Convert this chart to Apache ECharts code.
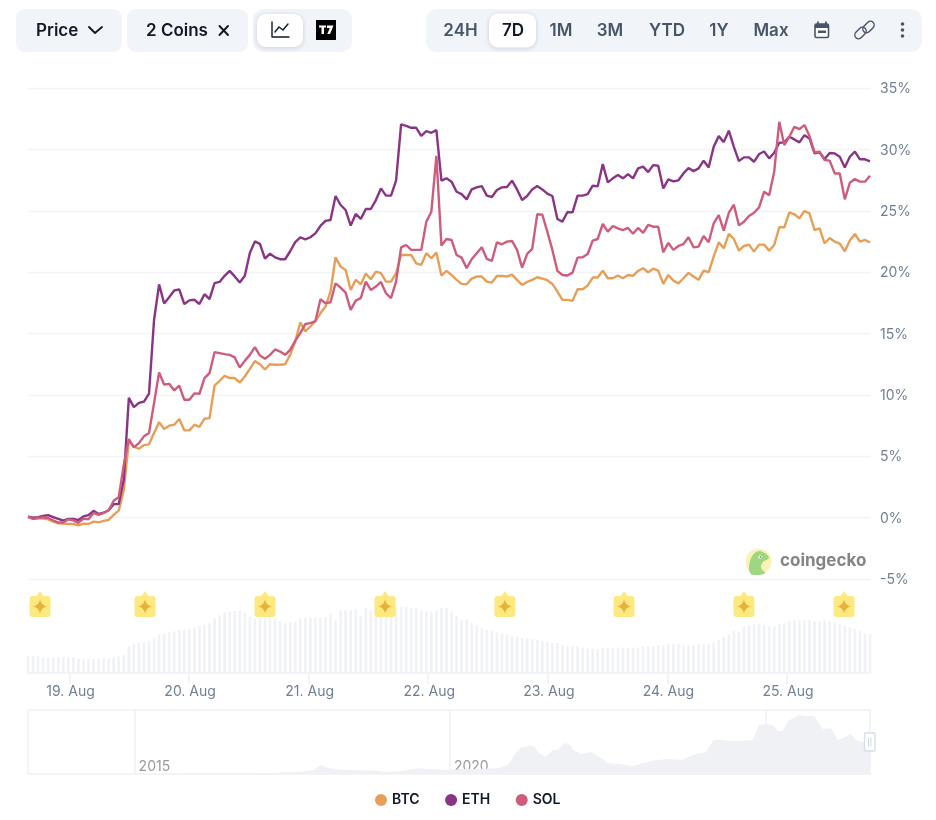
<!DOCTYPE html>
<html><head><meta charset="utf-8">
<style>html,body{margin:0;padding:0;background:#fff}#c{width:936px;height:820px}</style>
<script src="https://cdn.jsdelivr.net/npm/echarts@6/dist/echarts.min.js"></script>
</head><body><div id="c"></div>
<script>
const seriesNames = ['BTC','ETH','SOL'];
const btc = [.03,-.08,-.03,-.08,-.14,-.33,-.46,-.49,-.52,-.52,-.63,-.49,-.52,-.33,-.38,-.27,-.19,.22,.57,2.25,6.21,5.78,5.61,5.91,5.97,6.89,7.78,7.22,7.49,7.57,8.03,7.11,7.11,7.57,7.4,8.06,8.11,10.76,11.15,11.55,11.37,11.37,11.01,11.5,12.12,12.75,12.5,12.07,12.5,12.45,12.45,12.5,13.26,14.35,15.9,15.18,15.57,16.0,
16.65,17.2,18.42,21.21,20.45,20.18,18.55,19.37,19.01,19.88,19.42,20.04,19.91,19.23,19.23,19.91,21.4,21.4,21.4,20.72,20.59,21.54,21.13,21.59,19.72,20.1,19.77,19.37,19.04,19.01,19.47,19.64,19.64,19.23,19.15,19.69,19.69,19.64,19.8,19.37,18.96,19.2,19.37,19.58,19.47,19.34,19.04,18.42,17.74,17.74,17.66,18.6,18.6,18.9,19.56,19.56,
20.12,19.5,19.5,19.72,19.5,19.77,19.69,20.1,20.32,19.99,20.28,20.12,19.04,19.77,19.31,19.09,19.5,19.94,19.64,19.37,20.12,19.99,21.26,22.43,21.94,23.11,22.7,21.75,22.13,22.24,21.67,22.24,22.24,21.75,22.21,23.65,23.65,24.87,24.71,24.38,24.98,24.79,23.43,23.57,22.35,22.78,22.48,22.32,21.7,22.57,23.11,22.48,22.62,22.43];
const eth = [.08,0,.03,.13,.2,.05,-.1,-.25,-.1,-.1,-.2,.1,.2,.55,.3,.4,.6,1.1,1.1,3.1,9.75,9.0,9.35,9.45,10.1,16.1,19.0,17.45,17.95,18.5,18.6,17.4,17.7,17.75,17.4,18.2,17.8,19.1,19.2,19.7,20.1,19.65,19.15,19.7,21.55,22.5,22.3,21.1,21.5,21.2,21.05,21.05,21.7,22.45,22.84,22.67,22.84,23.16,23.76,24.17,24.25,26.2,25.47,25.06,23.79,24.74,24.33,25.14,25.14,25.87,26.82,26.23,26.23,27.45,32.03,31.92,31.76,31.76,31.1,31.49,31.35,31.57,27.45,27.64,27.37,26.55,26.36,25.93,26.74,26.9,27.01,26.23,26.12,26.69,26.9,26.93,27.45,26.74,25.87,26.2,26.74,27.01,26.74,26.39,26.2,24.33,24.11,24.9,24.87,26.23,26.23,26.36,27.04,26.99,
28.8,27.31,27.64,27.91,27.64,27.99,27.64,28.45,28.59,28.15,28.72,28.67,26.82,27.56,27.39,27.48,28.04,28.48,28.23,28.45,29.08,28.53,30.21,31.08,30.59,31.52,30.21,29.05,29.35,29.35,28.99,29.62,29.83,29.27,29.73,30.54,30.57,31.03,30.81,30.57,31.16,30.89,29.67,29.75,29.21,29.7,29.67,29.4,28.53,29.4,29.81,29.19,29.19,29.02];
const sol = [.08,-.11,-.03,.03,-.03,-.22,-.4,-.4,-.14,-.22,-.43,-.08,-.14,.38,.22,.38,.6,1.38,1.68,4.3,6.4,5.72,6.07,6.62,6.89,9.33,11.83,10.85,10.9,10.36,10.76,9.6,9.6,10.12,10.09,11.37,11.77,13.48,13.4,13.32,13.26,13.05,12.23,12.77,13.26,13.89,13.2,12.94,13.26,13.7,13.53,13.26,13.67,14.4,15.03,15.77,15.84,16.0,
17.79,17.47,17.55,19.09,18.74,18.33,16.92,17.68,17.88,19.23,18.55,18.82,19.2,18.28,17.88,19.23,22.02,22.21,21.81,21.81,21.81,24.11,24.92,29.48,22.16,22.7,22.62,21.4,21.18,20.32,21.05,21.54,22.02,21.07,20.91,22.43,22.27,22.48,22.54,21.81,20.37,21.48,21.89,24.71,24.68,23.3,21.81,20.1,19.77,19.72,19.96,21.18,21.21,21.48,22.57,22.7,
23.92,23.3,23.76,23.57,23.43,23.6,23.13,23.6,23.19,23.84,23.7,23.7,21.62,22.38,21.81,22.13,22.29,22.84,22.02,22.08,22.95,22.43,23.98,24.65,23.38,24.84,25.49,23.81,24.11,24.57,24.84,25.28,26.55,26.26,28.18,32.25,30.35,31.03,31.84,31.65,31.98,31.08,29.75,29.81,29.13,29.08,28.04,28.04,25.93,27.28,27.58,27.37,27.37,27.85];
const volume = [50,50,50,47,47,47,47,47,47,47,43,43,43,43,43,43,43,
46,50,54,80,87,91,93,97,105,115,119,123,125,129,130,133,137,141,144,149,164,173,181,185,186,188,180,168,165,165,163,166,166,156,151,152,153,163,166,167,167,166,168,178,158,188,188,188,191,170,194,188,198,198,198,198,196,198,198,196,195,188,185,184,188,195,195,185,170,158,160,
150,143,136,130,126,122,119,115,111,108,106,105,101,98,96,93,90,90,84,80,80,80,77,73,72,72,75,76,76,76,76,76,76,76,79,80,80,83,83,86,86,86,83,83,83,86,86,88,92,100,108,116,127,123,140,143,146,146,144,140,140,148,148,156,158,158,158,158,155,155,158,155,151,148,142,136,132,126,118,116];
const dayTicks = ['2025-08-19','2025-08-20','2025-08-21','2025-08-22','2025-08-23','2025-08-24','2025-08-25'];
const dayLabels = ['19. Aug','20. Aug','21. Aug','22. Aug','23. Aug','24. Aug','25. Aug'];
const flagTimes = ['2025-08-18T18:05Z','2025-08-19T15:09Z','2025-08-20T15:14Z','2025-08-21T15:20Z','2025-08-22T15:23Z','2025-08-23T15:18Z','2025-08-24T15:22Z','2025-08-25T11:28Z'];
const navYears = [2013.31,2015,2016,2017.26,2017.35,2017.62,2017.83,2017.96,2018.07,2018.26,2018.46,2018.84,2018.94,2019.21,2019.48,2019.73,2020,2020.25,2020.46,2020.78,2020.92,2021.01,2021.12,2021.24,2021.33,2021.41,2021.52,2021.63,2021.71,2021.81,2021.89,2021.96,2022.08,2022.23,2022.35,2022.5,2022.68,2022.9,2023.06,2023.26,2023.47,2023.69,2023.85,2024.06,2024.18,2024.33,2024.42,2024.56,2024.8,2024.9,2025.01,2025.12,2025.2,2025.28,2025.36,2025.53,2025.64,2025.77,2025.91,2026.04,2026.15,2026.24,2026.35,2026.46,2026.56,2026.66];
const navValues = [.2,.3,.5,1,2,2,3.7,9,5.7,4.3,4,3.3,2.3,2.7,5.7,4.7,4,5,5,6,9,18,26,28,28,21,17,24,24,31,30,24,20,22,18,11,10,8,11,14,15,14,19,22,34,34,33,33,34,49,50,49,43,43,53,59,58,58,45,46,34,36,40,33,32,33];
const navYearTicks = [2015,2020,2025];

const COLORS = {BTC:'#E79F58',ETH:'#8A3485',SOL:'#CE5C7B'};
const FONT = 'Inter';
const start = Date.UTC(2025,7,18,15,40);
const end = start + 169*3600e3;
const step = (end-start)/(btc.length-1);
const times = btc.map((_,i)=>start+i*step);
const zip = a => a.map((v,i)=>[times[i],v]);
const dayMs = dayTicks.map(d=>Date.parse(d+'T00:00:00Z'));
const flags = flagTimes.map(t=>[Date.parse(t),207]);

const PILL='#F1F4F9', INK='#111827', SOFT='#475569';
const pill=(x,y,w,h,r,fill,shadow)=>({type:'rect',shape:{x,y,width:w,height:h,r},style:Object.assign({fill},shadow?{shadowBlur:5,shadowColor:'rgba(15,23,42,.16)',shadowOffsetY:1}:{})});
const txt=(text,x,y,align,fill,size,weight)=>({type:'text',x,y,style:{text,fill,font:`${weight||600} ${size||17}px ${FONT}`,align:align||'center',verticalAlign:'middle'}});
const poly=(points,stroke,lw)=>({type:'polyline',shape:{points},style:{fill:null,stroke,lineWidth:lw||1.8,lineCap:'round',lineJoin:'round'}});
const shapeFill=(points,fill,z,smooth)=>({type:'polygon',z:z||0,shape:{points,smooth:smooth||0},style:{fill}});
const chrome=[
 pill(16,9,106,43,9,PILL), txt('Price',36,30.5,'left',INK), poly([[89,27],[95,33],[102,27]],INK,1.9),
 pill(127,9,121,43,9,PILL), txt('2 Coins',146,30.5,'left',INK), poly([[219.5,26],[228,35]],INK,1.9), poly([[228,26],[219.5,35]],INK,1.9),
 pill(253,9,99,43,10,PILL), pill(257,14,46,33,9,'#fff',true),
 poly([[272,22],[272,37],[289,37]],INK,1.4), poly([[275,32],[279,27],[283,30],[288,24]],INK,1.4),
 {type:'rect',shape:{x:316,y:20,width:20,height:20},style:{fill:'#000'}},
 shapeFill([[319,25.5],[326,25.5],[326,27.5],[324,27.5],[324,34],[321.5,34],[321.5,27.5],[319,27.5]],'#fff'),
 shapeFill([[327,25.5],[333.5,25.5],[330,34],[327.3,34],[329.8,28],[327,28]],'#fff'),
 pill(426,9,496,43,11,PILL), pill(489,13.5,47,34,9,'#fff',true),
 txt('24H',460.5,30.5,'center',SOFT), txt('7D',513,30.5,'center',INK), txt('1M',561,30.5,'center',SOFT), txt('3M',610,30.5,'center',SOFT),
 txt('YTD',667,30.5,'center',SOFT), txt('1Y',719,30.5,'center',SOFT), txt('Max',771,30.5,'center',SOFT),
 {type:'rect',shape:{x:815,y:24,width:13.5,height:13.5,r:1.5},style:{fill:'#fff',stroke:SOFT,lineWidth:1.6}},
 {type:'rect',shape:{x:815,y:24,width:13.5,height:4},style:{fill:SOFT}},
 {type:'rect',shape:{x:818,y:30.5,width:8,height:2.5},style:{fill:SOFT}},
 {type:'rect',shape:{x:817,y:21.5,width:1.8,height:3},style:{fill:SOFT}},{type:'rect',shape:{x:825,y:21.5,width:1.8,height:3},style:{fill:SOFT}},
 {type:'rect',x:860.5,y:33,rotation:.8,shape:{x:-6.5,y:-3.8,width:13,height:7.6,r:3.8},style:{fill:null,stroke:SOFT,lineWidth:1.4}},
 {type:'rect',x:868.5,y:27,rotation:.8,shape:{x:-6.5,y:-3.8,width:13,height:7.6,r:3.8},style:{fill:null,stroke:SOFT,lineWidth:1.4}},
 {type:'circle',shape:{cx:902.5,cy:24,r:1.8},style:{fill:SOFT}},{type:'circle',shape:{cx:902.5,cy:30,r:1.8},style:{fill:SOFT}},{type:'circle',shape:{cx:902.5,cy:36,r:1.8},style:{fill:SOFT}},
 {type:'circle',z:5,shape:{cx:758.5,cy:561.5,r:13},style:{fill:'#FBF2B5'}},
 shapeFill([[750,573],[750,561],[756,552],[763,552],[769,558],[763,562],[761,568],[765,573],[757,575]],'#9FD681',6,.4),
 {type:'circle',z:7,shape:{cx:760,cy:557,r:1.7},style:{fill:'#fff'}},{type:'circle',z:8,shape:{cx:760.3,cy:557,r:.8},style:{fill:'#555'}},
 {type:'text',z:6,x:780,y:561,style:{text:'coingecko',fill:'#858585',font:`700 17px ${FONT}`,align:'left',verticalAlign:'middle'}},
 {type:'rect',z:20,shape:{x:864.5,y:733,width:10.5,height:18,r:1},style:{fill:'#fff',stroke:'#D5DDE8',lineWidth:1.3}},
 {type:'rect',z:21,shape:{x:868,y:737.5,width:.8,height:9},style:{fill:'#C3CBD6'}},
 {type:'rect',z:21,shape:{x:870.5,y:737.5,width:.8,height:9},style:{fill:'#C3CBD6'}}
];

const GRID='#F2F3F6';
const option={
 animation:false,
 backgroundColor:'#fff',
 textStyle:{fontFamily:FONT},
 color:[COLORS.BTC,COLORS.ETH,COLORS.SOL],
 grid:[
  {left:28,width:842,top:88,height:491},
  {left:28,width:842,top:590,height:83},
  {left:28,width:842,top:710,height:64,show:true,borderColor:'#F0F1F4',borderWidth:1.5,backgroundColor:'transparent'}
 ],
 xAxis:[
  {type:'value',gridIndex:0,min:start,max:end,show:false},
  {type:'value',gridIndex:1,min:start,max:end,
   axisLine:{lineStyle:{color:'#F0F1F4',width:1.5}},
   axisTick:{length:11,customValues:dayMs,lineStyle:{color:'#F0F1F4',width:1.5}},
   axisLabel:{customValues:dayMs,color:'#6F7F95',fontSize:14,fontFamily:FONT,margin:12,hideOverlap:false,padding:[0,0,0,2],
     formatter:v=>dayLabels[dayMs.indexOf(+v)]||''},
   splitLine:{show:false}},
  {type:'value',gridIndex:2,min:2013.31,max:2026.66,
   axisLine:{show:false},
   axisTick:{show:false,customValues:navYearTicks},
   axisLabel:{customValues:navYearTicks,inside:true,color:'#9A9A9A',fontSize:14,fontFamily:FONT,margin:0,align:'left',padding:[0,0,0,4],formatter:v=>String(v)},
   splitLine:{show:true,lineStyle:{color:'#F0F1F4',width:1.5}}}
 ],
 yAxis:[
  {type:'value',gridIndex:0,position:'right',min:-5,max:35,interval:5,
   axisLine:{show:false},axisTick:{show:false},
   axisLabel:{formatter:'{value}%',color:'#6F7F95',fontSize:14,fontFamily:FONT,margin:10,verticalAlign:'top',padding:[-6,0,0,0]},
   splitLine:{lineStyle:{color:GRID,width:1.3}}},
  {type:'value',gridIndex:1,min:0,max:249,show:false},
  {type:'value',gridIndex:2,min:0,max:64,show:false}
 ],
 legend:{data:seriesNames,left:370,top:788,icon:'circle',itemWidth:12,itemHeight:12,itemGap:25.5,
   textStyle:{color:INK,fontSize:14,fontWeight:600,fontFamily:FONT},selectedMode:false},
 series:[
  {name:'BTC',type:'line',xAxisIndex:0,yAxisIndex:0,data:zip(btc),showSymbol:false,symbol:'none',lineStyle:{width:2.4,color:COLORS.BTC},itemStyle:{color:COLORS.BTC}},
  {name:'ETH',type:'line',xAxisIndex:0,yAxisIndex:0,data:zip(eth),showSymbol:false,symbol:'none',lineStyle:{width:2.4,color:COLORS.ETH},itemStyle:{color:COLORS.ETH}},
  {name:'SOL',type:'line',xAxisIndex:0,yAxisIndex:0,data:zip(sol),showSymbol:false,symbol:'none',lineStyle:{width:2.4,color:COLORS.SOL},itemStyle:{color:COLORS.SOL}},
  {name:'Volume',type:'bar',xAxisIndex:1,yAxisIndex:1,data:zip(volume),barWidth:2.6,itemStyle:{color:'#F0F2F6'},silent:true},
  {name:'Events',type:'scatter',xAxisIndex:1,yAxisIndex:1,data:flags,z:5,silent:true,symbolSize:[21,26],
   symbol:'path://M10.5 0L14 5H18Q21 5 21 8V23Q21 26 18 26H3Q0 26 0 23V8Q0 5 3 5H7Z',itemStyle:{color:'#FDE97F',opacity:1}},
  {name:'EventStar',type:'scatter',xAxisIndex:1,yAxisIndex:1,data:flags,z:6,silent:true,symbolSize:14,symbolOffset:[0,2.5],
   symbol:'path://M5 0Q5.8 4.2 10 5Q5.8 5.8 5 10Q4.2 5.8 0 5Q4.2 4.2 5 0Z',itemStyle:{color:'#E5B23C',opacity:1}},
  {name:'Overview',type:'line',xAxisIndex:2,yAxisIndex:2,data:navYears.map((y,i)=>[y,navValues[i]]),symbol:'none',silent:true,
   lineStyle:{width:0},areaStyle:{color:'#EFF1F5',opacity:1}}
 ],
 graphic:{elements:chrome}
};
const chart=echarts.init(document.getElementById('c'),null,{renderer:'canvas',width:936,height:820});
chart.setOption(option);
</script></body></html>
